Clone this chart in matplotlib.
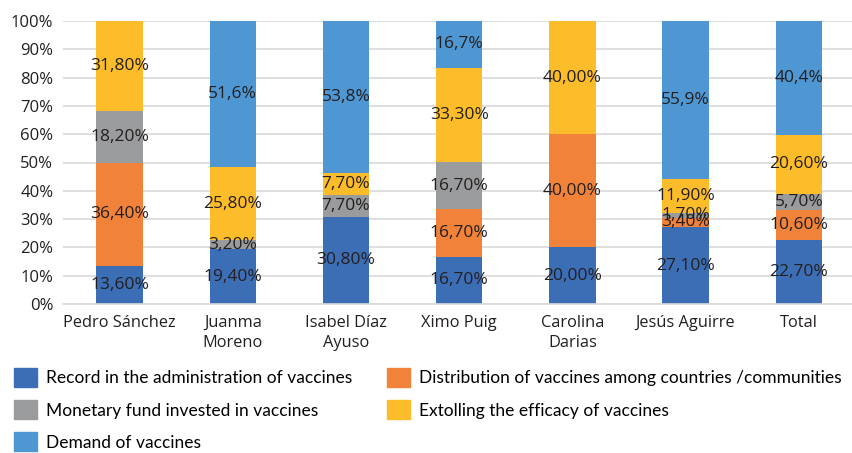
# 100% stacked bar chart: themes of vaccine messages by politician

import numpy as np
from matplotlib import pyplot as plt
from matplotlib.patches import Patch

# ----------------------------------------------------------------------------------------------- #

# Data

categories = ["Pedro Sánchez", "Juanma\nMoreno", "Isabel Díaz\nAyuso", "Ximo Puig",
              "Carolina\nDarias", "Jesús Aguirre", "Total"]

series_names = ["Record in the administration of vaccines",
                "Distribution of vaccines among countries /communities",
                "Monetary fund invested in vaccines",
                "Extolling the efficacy of vaccines",
                "Demand of vaccines"]

record = [13.6, 19.4, 30.8, 16.7, 20.0, 27.1, 22.7]
distribution = [36.4, 0.0, 0.0, 16.7, 40.0, 3.4, 10.6]
monetary = [18.2, 3.2, 7.7, 16.7, 0.0, 1.7, 5.7]
extolling = [31.8, 25.8, 7.7, 33.3, 40.0, 11.9, 20.6]
demand = [0.0, 51.6, 53.8, 16.7, 0.0, 55.9, 40.4]

y_ticks = [0, 10, 20, 30, 40, 50, 60, 70, 80, 90, 100]

# ----------------------------------------------------------------------------------------------- #

colors = ["#3C6EB6", "#F0823A", "#999B9C", "#FDBD2A", "#4F97D3"]
decimals = [2, 2, 2, 2, 1]
text_color = "#231F20"

plt.rcParams['font.family'] = ['Open Sans', 'DejaVu Sans']

fig = plt.figure(figsize=(8.52, 4.53), dpi=100)
ax = fig.add_axes([63 / 852, 1 - 304 / 453, (852 - 63) / 852, 283 / 453])

x = np.arange(len(categories))
bottom = np.zeros(len(categories))
all_series = [record, distribution, monetary, extolling, demand]

for values, color, dec in zip(all_series, colors, decimals):
    values = np.array(values)
    ax.bar(x, values, width=0.41, bottom=bottom, color=color, zorder=2)
    for xi, v, b in zip(x, values, bottom):
        if v > 0:
            label = f"{v:.{dec}f}%".replace(".", ",")
            ax.text(xi, b + v / 2, label, ha="center", va="center",
                    fontsize=12.5, color=text_color, zorder=3)
    bottom += values

# Axes styling
ax.set_xlim(-0.5, 6.47)
ax.set_ylim(0, 100)
ax.set_yticks(y_ticks)
ax.set_yticklabels([f"{t}%" for t in y_ticks], fontsize=12, color=text_color)
ax.set_xticks(x)
ax.set_xticklabels(categories, fontsize=11.8, color=text_color, linespacing=1.35)
ax.tick_params(axis="y", length=0, pad=7)
ax.tick_params(axis="x", length=0, pad=8)
ax.yaxis.grid(True, color="#D9D9D9", linewidth=1.2, zorder=0)
for side in ["top", "right", "left"]:
    ax.spines[side].set_visible(False)
ax.spines["bottom"].set_color("#D9D9D9")
ax.spines["bottom"].set_linewidth(1.2)

# Legend (column-wise order)
handles = [Patch(color=c) for c in colors]
order = [0, 2, 4, 1, 3]
fig.legend([handles[i] for i in order], [series_names[i] for i in order],
           loc="upper left", bbox_to_anchor=(14 / 852, 1 - 368 / 453), ncol=2, frameon=False,
           borderpad=0, borderaxespad=0,
           handlelength=1.32, handleheight=1.32, handletextpad=0.5,
           columnspacing=2.05, labelspacing=0.75,
           prop={'family': ['Lato', 'DejaVu Sans'], 'size': 12.5})

plt.savefig("out.png", dpi=100)
